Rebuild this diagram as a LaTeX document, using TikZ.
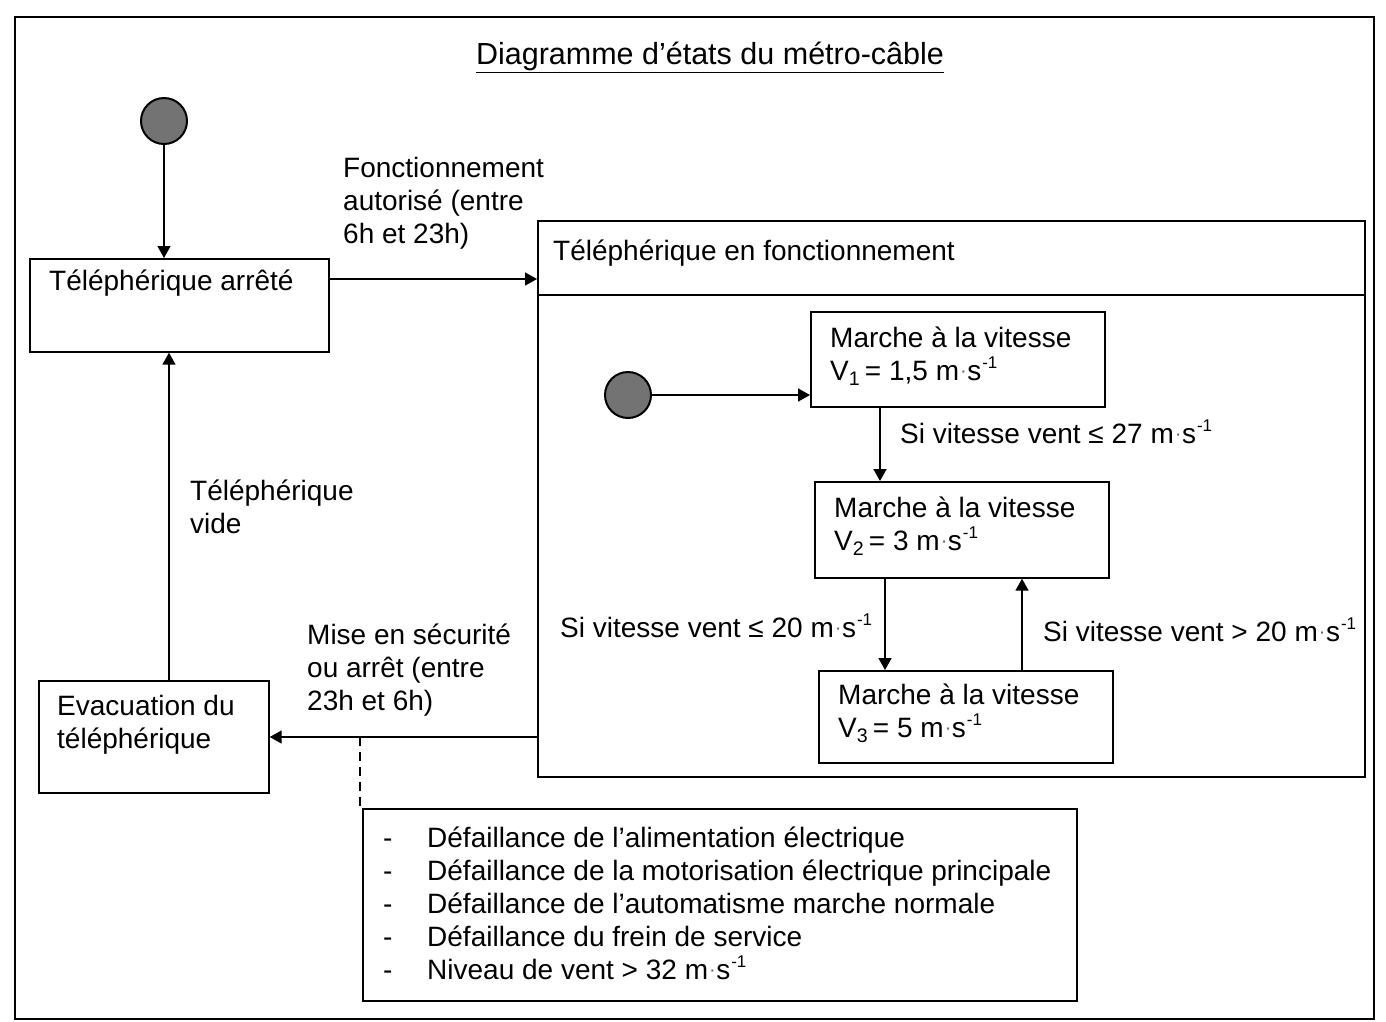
\documentclass[tikz,border=0pt]{standalone}
\usepackage{fontspec}
\setmainfont{Liberation Sans}
\usetikzlibrary{arrows.meta}
\newcommand{\msu}{m\kern1pt{\color{black!60}\fontsize{20}{20}\selectfont\raisebox{3pt}{·}}\kern0.5pt s\kern1pt\raisebox{12pt}{\fontsize{17}{17}\selectfont -1}}
\begin{document}
\begin{tikzpicture}[x=1pt,y=-1pt,
  txt/.style={font=\fontsize{28}{33}\selectfont, inner sep=0pt, align=left},
  box/.style={draw, line width=1.7pt, inner sep=0pt},
  arr/.style={line width=1.6pt, -{Triangle[length=12pt,width=13pt]}},
  dot/.style={circle, draw, line width=2pt, fill=black!55, minimum size=46pt, inner sep=0pt}]
\useasboundingbox (0,0) rectangle (1386,1021);
% outer frame
\draw[line width=2pt] (15,17) rectangle (1374,1019);
% title
\node[txt, font=\fontsize{30.5}{36}\selectfont, anchor=center] (title) at (710,57) {\underline{Diagramme d’états du métro-câble}};
% initial state 1 and stopped state
\node[dot] (i1) at (164,121) {};
\node[box, anchor=north west, minimum width=299pt, minimum height=93pt] (A) at (29,258) {};
\node[txt, anchor=west] (At) at (49,283) {Téléphérique arrêté};
% superstate
\node[box, anchor=north west, minimum width=827pt, minimum height=556pt] (S) at (537,220) {};
\draw[line width=1.7pt] ([yshift=-75pt]S.north west) -- ([yshift=-75pt]S.north east);
\node[txt, anchor=west] (St) at (553,253) {Téléphérique en fonctionnement};
% inner states
\node[dot] (i2) at (628,395) {};
\node[box, anchor=north west, minimum width=294pt, minimum height=95pt] (V1) at (810,311) {};
\node[txt, anchor=west] (V1t) at (830,356) {Marche à la vitesse\\V\textsubscript{1}\,= 1,5 \msu};
\node[box, anchor=north west, minimum width=294pt, minimum height=96pt] (V2) at (814,481) {};
\node[txt, anchor=west] (V2t) at (834,526) {Marche à la vitesse\\V\textsubscript{2}\,= 3 \msu};
\node[box, anchor=north west, minimum width=294pt, minimum height=92pt] (V3) at (818,670) {};
\node[txt, anchor=west] (V3t) at (838,713) {Marche à la vitesse\\V\textsubscript{3}\,= 5 \msu};
% evacuation
\node[box, anchor=north west, minimum width=230pt, minimum height=112pt] (E) at (38,680) {};
\node[txt, anchor=west] (Et) at (57,725) {Evacuation du\\téléphérique};
% note
\node[box, anchor=north west, minimum width=714pt, minimum height=192pt] (N) at (362,808) {};
\node[txt, anchor=west] (Nt) at (383,903) {\makebox[44pt][l]{-}Défaillance de l’alimentation électrique\\
\makebox[44pt][l]{-}Défaillance de la motorisation électrique principale\\
\makebox[44pt][l]{-}Défaillance de l’automatisme marche normale\\
\makebox[44pt][l]{-}Défaillance du frein de service\\
\makebox[44pt][l]{-}Niveau de vent > 32 \msu};
% connectors
\draw[arr] (i1.south) -- (i1.south |- A.north);
\coordinate (cAS) at ([yshift=-21pt]A.north east);
\draw[arr] (cAS) -- (cAS -| S.west);
\node[txt, anchor=west] (lAS) at (343,203) {Fonctionnement\\autorisé (entre\\6h et 23h)};
\draw[arr] (i2.east) -- (i2.east -| V1.west);
\coordinate (c12) at ([xshift=70pt]V1.south west);
\draw[arr] (c12) -- (c12 |- V2.north);
\node[txt, anchor=west] (l12) at (900,432) {Si vitesse vent ≤ 27 \msu};
\coordinate (c23) at ([xshift=71pt]V2.south west);
\draw[arr] (c23) -- (c23 |- V3.north);
\node[txt, anchor=west] (l23) at (560,626) {Si vitesse vent ≤ 20 \msu};
\coordinate (c32) at ([xshift=204pt]V3.north west);
\draw[arr] (c32) -- (c32 |- V2.south);
\node[txt, anchor=west] (l32) at (1043,630) {Si vitesse vent > 20 \msu};
\coordinate (cSE) at ([yshift=-517pt]S.north west);
\draw[arr] (cSE) -- (cSE -| E.east);
\node[txt, anchor=west] (lSE) at (307,670) {Mise en sécurité\\ou arrêt (entre\\23h et 6h)};
\coordinate (cEA) at ([xshift=131pt]E.north west);
\draw[arr] (cEA) -- (cEA |- A.south);
\node[txt, anchor=west] (lEA) at (190,507) {Téléphérique\\vide};
\coordinate (cd) at (360,737);
\draw[line width=1.5pt, dash pattern=on 9pt off 6pt] (cd) -- (cd |- N.north);
\end{tikzpicture}
\end{document}
